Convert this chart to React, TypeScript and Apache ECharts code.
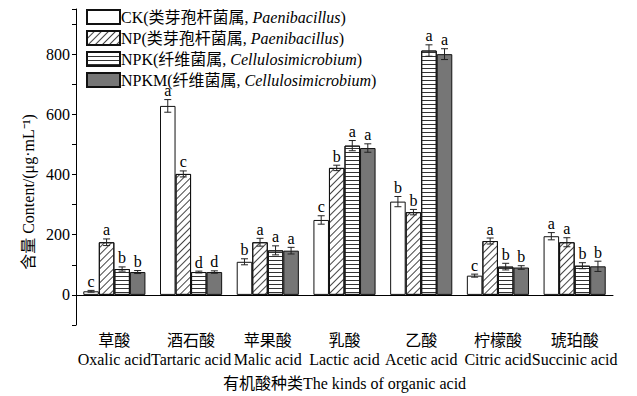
import React, { useEffect, useRef } from "react";
import * as echarts from "echarts";

// Organic acid categories (Chinese / English)
const categoriesCn = ["草酸", "酒石酸", "苹果酸", "乳酸", "乙酸", "柠檬酸", "琥珀酸"];
const categoriesEn = [
  "Oxalic acid",
  "Tartaric acid",
  "Malic acid",
  "Lactic acid",
  "Acetic acid",
  "Citric acid",
  "Succinic acid",
];

// Treatment names and legend labels
const seriesNames = ["CK", "NP", "NPK", "NPKM"];
const legendLabels = [
  "CK(类芽孢杆菌属, {i|Paenibacillus})",
  "NP(类芽孢杆菌属, {i|Paenibacillus})",
  "NPK(纤维菌属, {i|Cellulosimicrobium})",
  "NPKM(纤维菌属, {i|Cellulosimicrobium})",
];

// Mean content (μg·mL⁻¹), standard error and significance letters
const ckValues = [12, 628, 110, 249, 310, 64, 195];
const ckErrors = [3, 21, 10, 14, 17, 5, 12];
const ckLetters = ["c", "a", "b", "c", "b", "c", "a"];

const npValues = [175, 402, 175, 422, 275, 179, 175];
const npErrors = [11, 10, 13, 9, 9, 10, 15];
const npLetters = ["a", "c", "a", "b", "b", "a", "a"];

const npkValues = [86, 76, 148, 496, 812, 94, 97];
const npkErrors = [7, 3, 15, 17, 19, 11, 10];
const npkLetters = ["b", "d", "a", "a", "a", "b", "b"];

const npkmValues = [76, 76, 147, 488, 800, 91, 95];
const npkmErrors = [5, 4, 11, 14, 18, 6, 17];
const npkmLetters = ["b", "d", "a", "a", "a", "b", "b"];

// Y axis tick labels
const yTickLabels = [0, 200, 400, 600, 800];

const FONT = '"Liberation Serif", "Times New Roman", "Noto Sans CJK SC", serif';
const CATEGORY_GAP = 0.19;

const barStyles: any[] = [
  { color: "#ffffff", borderColor: "#111", borderWidth: 1 },
  {
    color: "#ffffff",
    borderColor: "#111",
    borderWidth: 1,
    decal: {
      symbol: "rect",
      symbolSize: 1,
      color: "#444",
      dashArrayX: [1, 0],
      dashArrayY: [1, 4],
      rotation: -Math.PI / 4,
    },
  },
  {
    color: "#ffffff",
    borderColor: "#111",
    borderWidth: 1,
    decal: {
      symbol: "rect",
      symbolSize: 1,
      color: "#333",
      dashArrayX: [1, 0],
      dashArrayY: [1, 3],
      rotation: 0,
    },
  },
  { color: "#767676", borderColor: "#111", borderWidth: 1 },
];

function errorSeries(idx: number, values: number[], errors: number[], letters: string[]) {
  return {
    type: "custom",
    name: "err-" + seriesNames[idx],
    z: 5,
    silent: true,
    data: values.map((v, i) => [i, v, errors[i]]),
    encode: { x: 0, y: 1 },
    renderItem: (params: any, api: any) => {
      const ci = api.value(0);
      const v = api.value(1);
      const e = api.value(2);
      const band = api.size([1, 0])[0];
      const bw = (band * (1 - CATEGORY_GAP)) / 4;
      const x = api.coord([ci, v])[0] + (idx - 1.5) * bw;
      const yTop = api.coord([ci, v + e])[1];
      const yBot = api.coord([ci, v - e])[1];
      const cap = 3.5;
      const st = { stroke: "#222", lineWidth: 1 };
      return {
        type: "group",
        children: [
          { type: "line", shape: { x1: x, y1: yTop, x2: x, y2: yBot }, style: st },
          { type: "line", shape: { x1: x - cap, y1: yTop, x2: x + cap, y2: yTop }, style: st },
          { type: "line", shape: { x1: x - cap, y1: yBot, x2: x + cap, y2: yBot }, style: st },
          {
            type: "text",
            x,
            y: yTop - 4,
            style: {
              text: letters[params.dataIndex],
              fontSize: 16,
              lineHeight: 10,
              fontFamily: FONT,
              fill: "#000",
              align: "center",
              verticalAlign: "bottom",
            },
          },
        ],
      };
    },
  };
}

export default function App() {
  const ref = useRef<HTMLDivElement>(null);

  useEffect(() => {
    if (!ref.current) return;
    const chart = echarts.init(ref.current, null, { renderer: "svg" });
    const allValues = [ckValues, npValues, npkValues, npkmValues];
    const allErrors = [ckErrors, npErrors, npkErrors, npkmErrors];
    const allLetters = [ckLetters, npLetters, npkLetters, npkmLetters];

    chart.setOption({
      animation: false,
      backgroundColor: "#ffffff",
      textStyle: { fontFamily: FONT, color: "#000" },
      grid: { left: 76, right: 24, top: 9, bottom: 69 },
      legend: {
        orient: "vertical",
        left: 86,
        top: 9,
        padding: 0,
        itemWidth: 33,
        itemHeight: 14,
        itemGap: 5,
        data: seriesNames,
        icon: "rect",
        formatter: (name: string) => legendLabels[seriesNames.indexOf(name)],
        textStyle: {
          fontFamily: FONT,
          fontSize: 16,
          lineHeight: 16,
          color: "#000",
          padding: [0, 0, 0, -4],
          rich: {
            i: { fontFamily: FONT, fontSize: 16, lineHeight: 16, fontStyle: "italic", color: "#000" },
          },
        },
      },
      xAxis: {
        type: "category",
        data: categoriesCn,
        name: "有机酸种类The kinds of organic acid",
        nameLocation: "middle",
        nameGap: 50,
        nameTextStyle: { fontFamily: FONT, fontSize: 16, color: "#000" },
        axisLine: { lineStyle: { color: "#000", width: 1 } },
        axisTick: { inside: true, length: 3, lineStyle: { color: "#000" } },
        axisLabel: {
          interval: 0,
          margin: 6,
          fontFamily: FONT,
          fontSize: 16,
          lineHeight: 19,
          color: "#000",
          formatter: (v: string, i: number) => `${v}\n${categoriesEn[i]}`,
        },
      },
      yAxis: {
        type: "value",
        min: -100,
        max: 950,
        interval: 100,
        splitLine: { show: false },
        axisLine: { show: true, lineStyle: { color: "#000", width: 1 } },
        axisTick: { show: true, length: 4, lineStyle: { color: "#000" } },
        axisLabel: {
          margin: 6,
          fontFamily: FONT,
          fontSize: 16,
          color: "#000",
          formatter: (v: number) => (yTickLabels.indexOf(v) >= 0 ? String(v) : ""),
        },
      },
      graphic: [
        {
          type: "text",
          x: 28,
          y: 192,
          rotation: Math.PI / 2,
          style: {
            text: "含量 Content/(μg·mL⁻¹)",
            fontFamily: FONT,
            fontSize: 16,
            fill: "#000",
            align: "center",
            verticalAlign: "middle",
          },
        },
      ],
      series: [
        ...seriesNames.map((name, i) => ({
          type: "bar",
          name,
          data: allValues[i],
          barGap: "0%",
          barCategoryGap: CATEGORY_GAP * 100 + "%",
          itemStyle: barStyles[i],
        })),
        ...seriesNames.map((_, i) => errorSeries(i, allValues[i], allErrors[i], allLetters[i])),
      ],
    });
    return () => chart.dispose();
  }, []);

  return (
    <div
      ref={ref}
      style={{ position: "fixed", left: 0, top: 0, width: 637, height: 396, background: "#fff" }}
    />
  );
}
